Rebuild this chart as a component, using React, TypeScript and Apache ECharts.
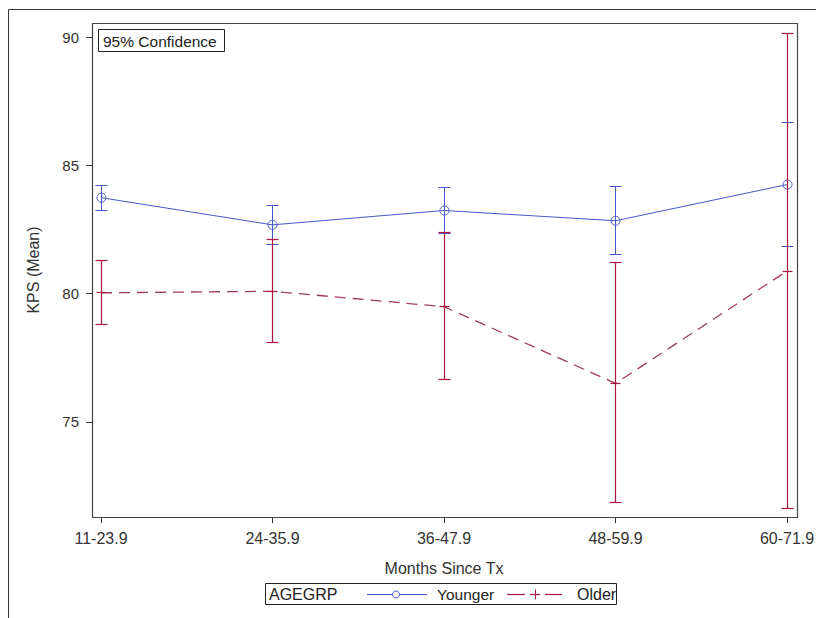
import React, { useEffect, useRef } from "react";
import * as echarts from "echarts";

const categories = ["11-23.9", "24-35.9", "36-47.9", "48-59.9", "60-71.9"];
const youngerMean = [83.74, 82.68, 83.24, 82.84, 84.25];
const youngerLower = [83.24, 81.93, 82.36, 81.53, 81.82];
const youngerUpper = [84.23, 83.43, 84.13, 84.19, 86.68];
const olderMean = [80.03, 80.09, 79.49, 76.5, 80.88];
const olderLower = [78.79, 78.09, 76.64, 71.84, 71.61];
const olderUpper = [81.28, 82.1, 82.38, 81.2, 90.14];
const yTicks = [75, 80, 85, 90];

const BLUE = "#4658C8";
const RED = "#AA1840";
const RED_LINE = "#A03C55";
const FONT = "'Liberation Sans', Arial, sans-serif";
const TXT = "#333333";

const snap = (v: number) => Math.round(v - 0.5) + 0.5;

function makeErrorRender(color: string, kind: "circle" | "plus", width: number) {
  return (params: any, api: any) => {
    const i = api.value(0);
    const lo = api.coord([i, api.value(1)]);
    const hi = api.coord([i, api.value(2)]);
    const m = api.coord([i, api.value(3)]);
    const x = snap(lo[0]);
    const yl = snap(lo[1]);
    const yh = snap(hi[1]);
    const ym = snap(m[1]);
    const cap = 6;
    const style = { stroke: color, lineWidth: width, fill: null };
    const children: any[] = [
      { type: "line", shape: { x1: x, y1: yl, x2: x, y2: yh }, style },
      { type: "line", shape: { x1: x - cap, y1: yl, x2: x + cap, y2: yl }, style },
      { type: "line", shape: { x1: x - cap, y1: yh, x2: x + cap, y2: yh }, style },
    ];
    if (kind === "circle") {
      children.push({
        type: "circle",
        shape: { cx: x, cy: m[1], r: 4.5 },
        style: { stroke: color, fill: "none", lineWidth: 1 },
      });
    } else {
      children.push({
        type: "line",
        shape: { x1: x - 5, y1: ym, x2: x + 5, y2: ym },
        style,
      });
    }
    return { type: "group", children };
  };
}

export default function App() {
  const ref = useRef<HTMLDivElement>(null);
  useEffect(() => {
    if (!ref.current) return;
    const chart = echarts.init(ref.current, undefined, { renderer: "svg" });
    const youngerErr = categories.map((_, i) => [i, youngerLower[i], youngerUpper[i], youngerMean[i]]);
    const olderErr = categories.map((_, i) => [i, olderLower[i], olderUpper[i], olderMean[i]]);
    chart.setOption({
      animation: false,
      backgroundColor: "#ffffff",
      grid: {
        left: 101,
        right: 29,
        top: 23,
        bottom: 101,
        containLabel: false,
        outerBoundsMode: "none",
      },
      xAxis: {
        type: "category",
        data: categories,
        boundaryGap: false,
        axisLine: { show: false },
        axisTick: { show: true, length: 6, lineStyle: { color: TXT } },
        axisLabel: { margin: 13, fontSize: 16, color: TXT, fontFamily: FONT },
        splitLine: { show: false },
        name: "Months Since Tx",
        nameLocation: "middle",
        nameGap: 43,
        nameTextStyle: { fontSize: 16, color: TXT, fontFamily: FONT },
      },
      yAxis: {
        type: "value",
        min: 71.29,
        max: 90.55,
        offset: 9,
        axisLine: { show: false },
        axisTick: { show: true, length: 6, customValues: yTicks, lineStyle: { color: TXT } },
        axisLabel: { customValues: yTicks, margin: 13, fontSize: 15, color: TXT, fontFamily: FONT },
        splitLine: { show: false },
        name: "KPS (Mean)",
        nameLocation: "middle",
        nameRotate: 90,
        nameGap: 51,
        nameTextStyle: { fontSize: 16, color: TXT, fontFamily: FONT },
      },
      series: [
        {
          name: "Younger",
          type: "line",
          data: youngerMean,
          symbol: "none",
          lineStyle: { color: BLUE, width: 1 },
          z: 3,
        },
        {
          name: "Older",
          type: "line",
          data: olderMean,
          symbol: "none",
          lineStyle: { color: RED_LINE, width: 1.3, type: [11, 7] },
          z: 2,
        },
        {
          name: "Younger CI",
          type: "custom",
          data: youngerErr,
          renderItem: makeErrorRender(BLUE, "circle", 1),
          z: 4,
        },
        {
          name: "Older CI",
          type: "custom",
          data: olderErr,
          renderItem: makeErrorRender(RED, "plus", 1.2),
          z: 5,
        },
      ],
      graphic: [
        {
          type: "rect",
          silent: true,
          shape: { x: 8.5, y: 9.5, width: 900, height: 700 },
          style: { fill: "none", stroke: "#333", lineWidth: 1 },
        },
        {
          type: "rect",
          silent: true,
          shape: { x: 92.5, y: 23.5, width: 705, height: 494 },
          style: { fill: "none", stroke: "#444", lineWidth: 1.2 },
        },
        {
          type: "rect",
          silent: true,
          shape: { x: 98.5, y: 29.5, width: 126, height: 22 },
          style: { fill: "#fff", stroke: "#222", lineWidth: 1 },
        },
        {
          type: "text",
          silent: true,
          x: 103,
          y: 41,
          style: { text: "95% Confidence", fontSize: 15.5, fontFamily: FONT, fill: "#222", verticalAlign: "middle", align: "left" },
        },
        // legend
        {
          type: "rect",
          silent: true,
          shape: { x: 265.5, y: 583.5, width: 351, height: 21 },
          style: { fill: "#fff", stroke: "#222", lineWidth: 1 },
        },
        {
          type: "text",
          silent: true,
          x: 269,
          y: 594.5,
          style: { text: "AGEGRP", fontSize: 16, fontFamily: FONT, fill: "#222", verticalAlign: "middle", align: "left" },
        },
        {
          type: "line",
          silent: true,
          shape: { x1: 367, y1: 594.5, x2: 427, y2: 594.5 },
          style: { stroke: BLUE, lineWidth: 1 },
        },
        {
          type: "circle",
          silent: true,
          shape: { cx: 396, cy: 594.5, r: 3.5 },
          style: { stroke: BLUE, fill: "#fff", lineWidth: 1 },
        },
        {
          type: "text",
          silent: true,
          x: 437,
          y: 594.5,
          style: { text: "Younger", fontSize: 15.5, fontFamily: FONT, fill: "#222", verticalAlign: "middle", align: "left" },
        },
        {
          type: "line",
          silent: true,
          shape: { x1: 507, y1: 594.5, x2: 525, y2: 594.5 },
          style: { stroke: RED, lineWidth: 1.2 },
        },
        {
          type: "line",
          silent: true,
          shape: { x1: 530, y1: 594.5, x2: 540, y2: 594.5 },
          style: { stroke: RED, lineWidth: 1.2 },
        },
        {
          type: "line",
          silent: true,
          shape: { x1: 535.5, y1: 589.5, x2: 535.5, y2: 599.5 },
          style: { stroke: RED, lineWidth: 1 },
        },
        {
          type: "line",
          silent: true,
          shape: { x1: 545, y1: 594.5, x2: 562, y2: 594.5 },
          style: { stroke: RED, lineWidth: 1.2 },
        },
        {
          type: "text",
          silent: true,
          x: 577,
          y: 594.5,
          style: { text: "Older", fontSize: 16, fontFamily: FONT, fill: "#222", verticalAlign: "middle", align: "left" },
        },
      ],
    });
    return () => chart.dispose();
  }, []);
  return (
    <div
      ref={ref}
      style={{ position: "fixed", left: 0, top: 0, width: 816, height: 618, background: "#fff" }}
    />
  );
}
